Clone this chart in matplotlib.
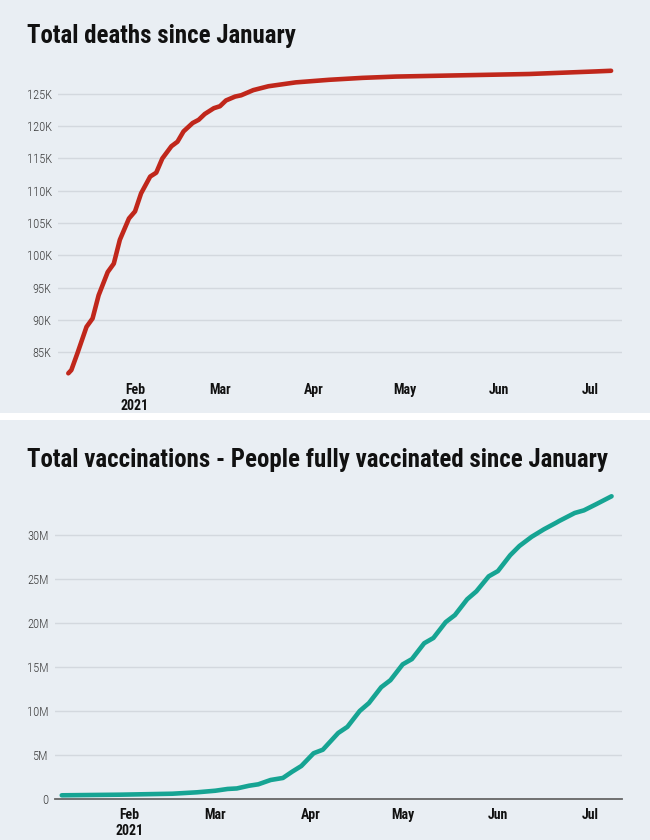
import matplotlib
matplotlib.use("Agg")
import matplotlib.pyplot as plt
import matplotlib.dates as mdates
from matplotlib import font_manager
from matplotlib.patches import Rectangle
import pandas as pd

# values
deathDates = ["2021-01-10", "2021-01-11", "2021-01-13", "2021-01-16", "2021-01-18", "2021-01-20",
              "2021-01-23", "2021-01-25", "2021-01-27", "2021-01-30", "2021-02-01", "2021-02-03",
              "2021-02-06", "2021-02-08", "2021-02-10", "2021-02-13", "2021-02-15", "2021-02-17",
              "2021-02-20", "2021-02-22", "2021-02-24", "2021-02-27", "2021-03-01", "2021-03-03",
              "2021-03-06", "2021-03-08", "2021-03-12", "2021-03-17", "2021-03-26", "2021-04-06",
              "2021-04-17", "2021-04-28", "2021-05-09", "2021-05-20", "2021-05-31", "2021-06-11",
              "2021-06-22", "2021-07-03", "2021-07-08"]
deathValues = [81700, 82200, 84800, 88900, 90200, 93800,
               97400, 98700, 102400, 105700, 106800, 109600,
               112200, 112800, 115000, 116900, 117600, 119200,
               120500, 121000, 121900, 122800, 123100, 124000,
               124600, 124800, 125600, 126200, 126800, 127200,
               127500, 127700, 127800, 127900, 128000, 128100,
               128300, 128500, 128600]

vaxDates = ["2021-01-10", "2021-01-29", "2021-02-15", "2021-02-23", "2021-03-01", "2021-03-05",
            "2021-03-08", "2021-03-12", "2021-03-15", "2021-03-19", "2021-03-23", "2021-03-26",
            "2021-03-29", "2021-04-02", "2021-04-05", "2021-04-10", "2021-04-13", "2021-04-17",
            "2021-04-20", "2021-04-24", "2021-04-27", "2021-05-01", "2021-05-04", "2021-05-08",
            "2021-05-11", "2021-05-15", "2021-05-18", "2021-05-22", "2021-05-25", "2021-05-29",
            "2021-06-01", "2021-06-05", "2021-06-08", "2021-06-12", "2021-06-16", "2021-06-20",
            "2021-06-21", "2021-06-26", "2021-06-29", "2021-07-03", "2021-07-08"]
vaxValues = [0.42e6, 0.49e6, 0.60e6, 0.76e6, 0.94e6, 1.14e6,
             1.20e6, 1.51e6, 1.67e6, 2.16e6, 2.39e6, 3.10e6,
             3.75e6, 5.20e6, 5.60e6, 7.50e6, 8.20e6, 10.0e6,
             10.9e6, 12.7e6, 13.5e6, 15.3e6, 15.9e6, 17.7e6,
             18.3e6, 20.1e6, 20.9e6, 22.7e6, 23.6e6, 25.3e6,
             25.9e6, 27.7e6, 28.75e6, 29.8e6, 30.65e6, 31.4e6,
             31.6e6, 32.5e6, 32.8e6, 33.5e6, 34.4e6]

deathTicks = [85000, 90000, 95000, 100000, 105000, 110000, 115000, 120000, 125000]
deathTickLabels = ["85K", "90K", "95K", "100K", "105K", "110K", "115K", "120K", "125K"]
vaxTicks = [0, 5e6, 10e6, 15e6, 20e6, 25e6, 30e6]
vaxTickLabels = ["0", "5M", "10M", "15M", "20M", "25M", "30M"]
monthTicks = ["2021-02-01", "2021-03-01", "2021-04-01", "2021-05-01", "2021-06-01", "2021-07-01"]
monthLabels = ["Feb\n2021", "Mar", "Apr", "May", "Jun", "Jul"]

titles = ["Total deaths since January",
          "Total vaccinations - People fully vaccinated since January"]

# pick a narrow font if there is one
installed = {f.name for f in font_manager.fontManager.ttflist}
narrow = "DejaVu Sans"
for name in ["Roboto Condensed", "Liberation Sans Narrow", "Open Sans Condensed", "Arial Narrow"]:
    if name in installed:
        narrow = name
        break

W, H = 650, 840
bg = "#e9eef3"
gridColor = "#d3d8de"

fig = plt.figure(figsize=(W / 100, H / 100), dpi=100, facecolor="white")

# panel backgrounds with the white strip between them
fig.patches.append(Rectangle((0, 1 - 413 / H), 1, 413 / H, transform=fig.transFigure,
                             facecolor=bg, edgecolor="none", zorder=-10))
fig.patches.append(Rectangle((0, 0), 1, (H - 420) / H, transform=fig.transFigure,
                             facecolor=bg, edgecolor="none", zorder=-10))


def px_axes(left, top, right, bottom):
    return fig.add_axes([left / W, 1 - bottom / H, (right - left) / W, (bottom - top) / H])


feb1 = mdates.date2num(pd.Timestamp("2021-02-01"))
monthNums = mdates.date2num(pd.to_datetime(monthTicks))


def style_axes(ax, yticks, ylabels, xpad):
    ax.set_facecolor("none")
    for s in ax.spines.values():
        s.set_visible(False)
    ax.set_yticks(yticks)
    ax.set_yticklabels(ylabels, fontfamily=narrow, fontsize=9, fontweight="light", color="#3a3a3a")
    ax.set_xticks(monthNums)
    ax.set_xticklabels(monthLabels, fontfamily=narrow, fontsize=10, fontweight="bold",
                       color="#111111", linespacing=1.2)
    ax.tick_params(axis="y", length=0, pad=4.5)
    ax.tick_params(axis="x", length=0, pad=xpad)
    ax.grid(axis="y", color=gridColor, linewidth=1.0)
    ax.set_axisbelow(True)


# deaths
ax1 = px_axes(58, 62, 622, 380)
ax1.plot(pd.to_datetime(deathDates), deathValues, color="#c0271b", linewidth=3.3,
         solid_capstyle="round", solid_joinstyle="round")
ax1.set_xlim(feb1 - 25.4, feb1 + 160.6)
ax1.set_ylim(80660, 129960)
style_axes(ax1, deathTicks, deathTickLabels, 2)

# vaccinations
ax2 = px_axes(55, 488, 622, 799)
ax2.plot(pd.to_datetime(vaxDates), vaxValues, color="#16a493", linewidth=3.3,
         solid_capstyle="round", solid_joinstyle="round")
ax2.set_xlim(feb1 - 24.2, feb1 + 160.4)
ax2.set_ylim(0, 35.34e6)
style_axes(ax2, vaxTicks, vaxTickLabels, 6.5)
ax2.spines["bottom"].set_visible(True)
ax2.spines["bottom"].set_color("#666666")
ax2.spines["bottom"].set_linewidth(1.3)

# titles, sized to the original widths
renderer = fig.canvas.get_renderer()
for title, baseline, target in [(titles[0], 43, 269), (titles[1], 466.7, 581)]:
    t = fig.text(27 / W, 1 - baseline / H, title, fontfamily=narrow, fontweight="bold",
                 fontsize=17, color="#111111", ha="left", va="baseline")
    width = t.get_window_extent(renderer).width
    t.set_fontsize(17 * target / width)

fig.savefig("out.png", dpi=100, facecolor="white")
